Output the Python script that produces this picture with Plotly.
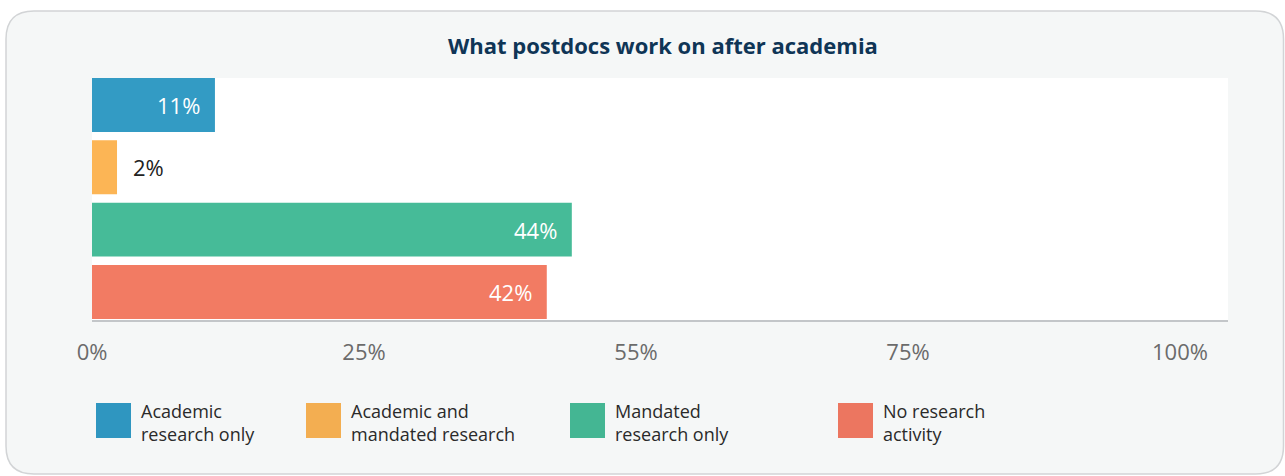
import plotly.graph_objects as go

# ---- data ----
categories = ["Academic research only", "Academic and mandated research",
              "Mandated research only", "No research activity"]
values = [11.3, 2.3, 44.1, 41.8]
label_text = ["11%", "2%", "44%", "42%"]
legend_labels = ["Academic<br>research only", "Academic and<br>mandated research",
                 "Mandated<br>research only", "No research<br>activity"]
tick_vals = [0, 25, 50, 75, 100]
tick_text = ["0%", "25%", "55%", "75%", "100%"]
title_text = "What postdocs work on after academia"

colors = ["#339bc4", "#fcb555", "#46bb98", "#f27b63"]
legend_colors = ["#2f96c0", "#f3ae51", "#44b693", "#ec7660"]

W, H = 1285, 476
L, R, T, B = 92, 1228, 78, 320
PW, PH = R - L, B - T


def px(x):
    return (x - L) / PW


def py(y):
    return (B - y) / PH


fig = go.Figure()
fig.add_trace(go.Bar(
    y=categories, x=values, orientation="h",
    marker=dict(color=colors, line=dict(width=0)),
    width=0.866, hoverinfo="skip", showlegend=False,
))

annotations = []
for cat, v, t in zip(categories, values, label_text):
    if v > 5:
        annotations.append(dict(x=v, y=cat, xref="x", yref="y", text=t, showarrow=False,
                                xanchor="right", xshift=-13,
                                font=dict(family="Open Sans", size=22, color="#ffffff")))
    else:
        annotations.append(dict(x=v, y=cat, xref="x", yref="y", text=t, showarrow=False,
                                xanchor="left", xshift=14,
                                font=dict(family="Open Sans", size=22, color="#222222")))

annotations.append(dict(x=px(663), y=py(45), xref="paper", yref="paper", text="<b>" + title_text + "</b>",
                        showarrow=False, xanchor="center", yanchor="middle",
                        font=dict(family="Open Sans", size=22, color="#0f3556")))

shapes = []
# card
cl, cr, ct, cb, rad = 6, 1283.5, 11, 474, 28
rx, ry = rad / PW, rad / PH
x0, x1, y0, y1 = px(cl), px(cr), py(cb), py(ct)
path = (f"M {x0+rx} {y1} L {x1-rx} {y1} Q {x1} {y1} {x1} {y1-ry} "
        f"L {x1} {y0+ry} Q {x1} {y0} {x1-rx} {y0} L {x0+rx} {y0} Q {x0} {y0} {x0} {y0+ry} "
        f"L {x0} {y1-ry} Q {x0} {y1} {x0+rx} {y1} Z")
shapes.append(dict(type="path", path=path, xref="paper", yref="paper",
                   fillcolor="#f5f7f7", line=dict(color="#d2d4d6", width=1.5), layer="below"))
# white plot area
shapes.append(dict(type="rect", xref="paper", yref="paper", x0=0, x1=1, y0=0, y1=1,
                   fillcolor="#ffffff", line=dict(width=0), layer="below"))

# legend
leg_x = [96, 306, 570, 838]
for lx, lab, c in zip(leg_x, legend_labels, legend_colors):
    shapes.append(dict(type="rect", xref="paper", yref="paper",
                       x0=px(lx), x1=px(lx + 35), y0=py(438), y1=py(403),
                       fillcolor=c, line=dict(width=0)))
    annotations.append(dict(x=px(lx + 43), y=py(422), xref="paper", yref="paper", text=lab,
                            showarrow=False, xanchor="left", yanchor="middle", align="left",
                            font=dict(family="Open Sans", size=18, color="#2a2a2a")))

fig.update_layout(
    width=W, height=H,
    margin=dict(l=L, r=W - R, t=T, b=H - B, pad=0),
    paper_bgcolor="#ffffff", plot_bgcolor="rgba(0,0,0,0)",
    shapes=shapes, annotations=annotations,
    xaxis=dict(range=[0, PW / 10.88], tickvals=tick_vals, ticktext=tick_text,
               showgrid=False, zeroline=False, showline=True, linecolor="#c3c6c9", linewidth=2,
               ticks="outside", ticklen=12, tickcolor="rgba(0,0,0,0)",
               tickfont=dict(family="Open Sans", size=22, color="#6b6b6b"), fixedrange=True),
    yaxis=dict(categoryorder="array", categoryarray=categories, range=[3.45, -0.433],
               showticklabels=False, showgrid=False, zeroline=False, showline=False,
               fixedrange=True),
    bargap=0.13,
)

fig.write_html("out.html")
